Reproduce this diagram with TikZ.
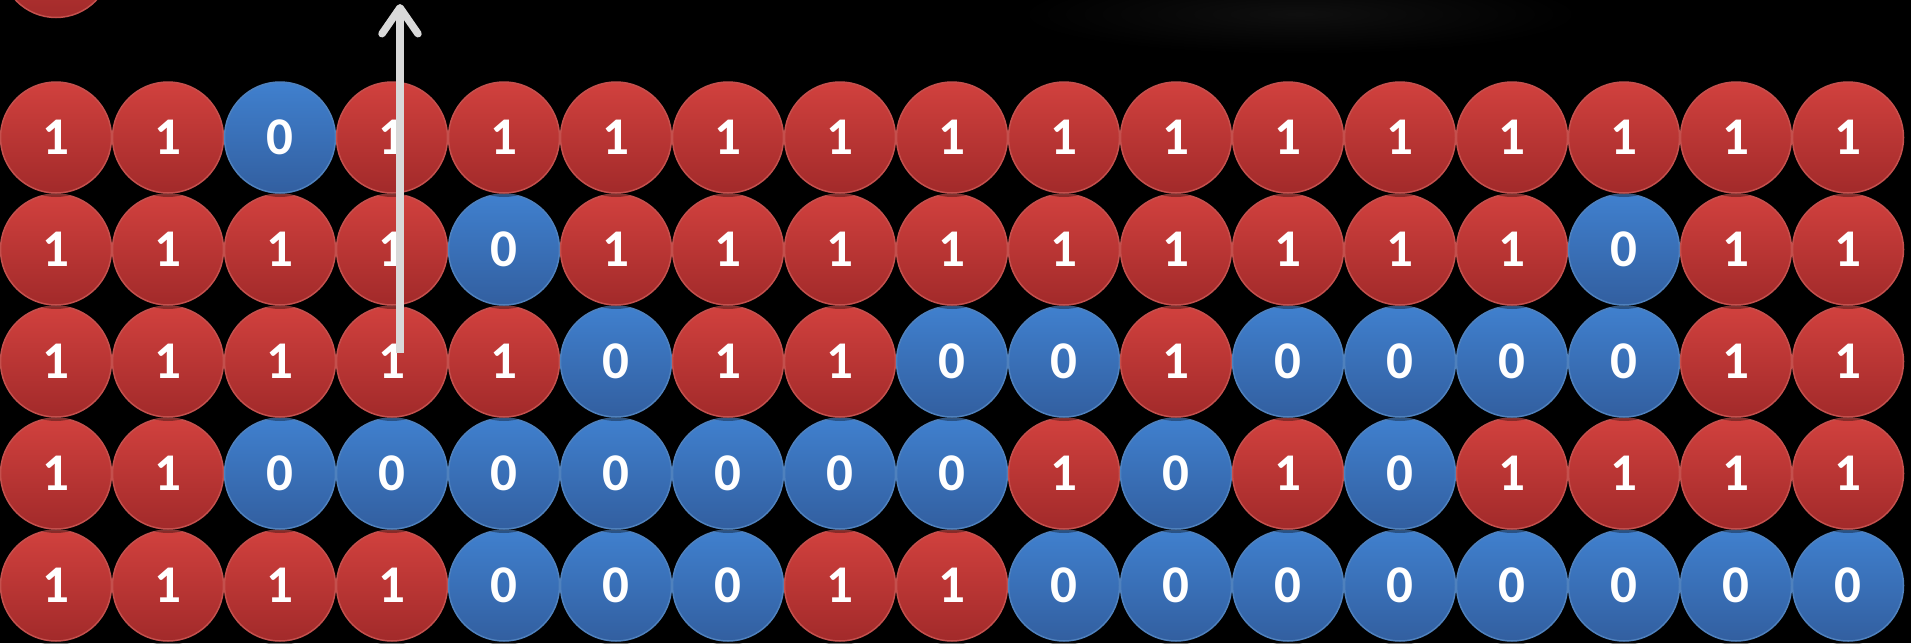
\documentclass[tikz,border=0pt]{standalone}
\usepackage{fontspec}
\setmainfont{Carlito}
\usetikzlibrary{arrows.meta,shadows}
\definecolor{redtop}{RGB}{209,65,62}
\definecolor{redbot}{RGB}{162,42,42}
\definecolor{redline}{RGB}{196,80,77}
\definecolor{bluetop}{RGB}{64,128,206}
\definecolor{bluebot}{RGB}{50,95,160}
\definecolor{blueline}{RGB}{79,129,189}
\definecolor{arrowgray}{RGB}{217,217,217}
\tikzset{
  bit/.style={circle, minimum size=111pt, inner sep=0pt, line width=1.5pt, text=white,
    font=\fontsize{53}{53}\selectfont\bfseries,
    drop shadow={shadow xshift=0pt, shadow yshift=-4pt, opacity=0.35, fill=black}},
  s1/.style={bit, draw=redline, top color=redtop, bottom color=redbot},
  s0/.style={bit, draw=blueline, top color=bluetop, bottom color=bluebot},
  pointer/.style={arrowgray, line width=7.5pt, -{Straight Barb[length=26pt,width=36pt,round]}},
}
\begin{document}
\begin{tikzpicture}[x=1pt,y=-1pt]
  \fill[black] (0,0) rectangle (1911,643);
  \useasboundingbox (0,0) rectangle (1911,643);
  \shade[inner color=black!94!white, outer color=black] (1300,14) ellipse (280 and 40);
  \node[s1] (ctop) at (56,-38) {};
  \foreach \r/\bits in {
      5/{1,1,1,1,0,0,0,1,1,0,0,0,0,0,0,0,0},
      4/{1,1,0,0,0,0,0,0,0,1,0,1,0,1,1,1,1},
      3/{1,1,1,1,1,0,1,1,0,0,1,0,0,0,0,1,1},
      2/{1,1,1,1,0,1,1,1,1,1,1,1,1,1,0,1,1},
      1/{1,1,0,1,1,1,1,1,1,1,1,1,1,1,1,1,1}} {
    \foreach \b [count=\c] in \bits {
      \node[s\b] (c\r-\c) at ({56+(\c-1)*112},{137.5+(\r-1)*112}) {\b};
    }
  }
  \coordinate (abot) at (400,353);
  \coordinate (atop) at (400,4);
  \draw[pointer] (abot) -- (atop);
\end{tikzpicture}
\end{document}
